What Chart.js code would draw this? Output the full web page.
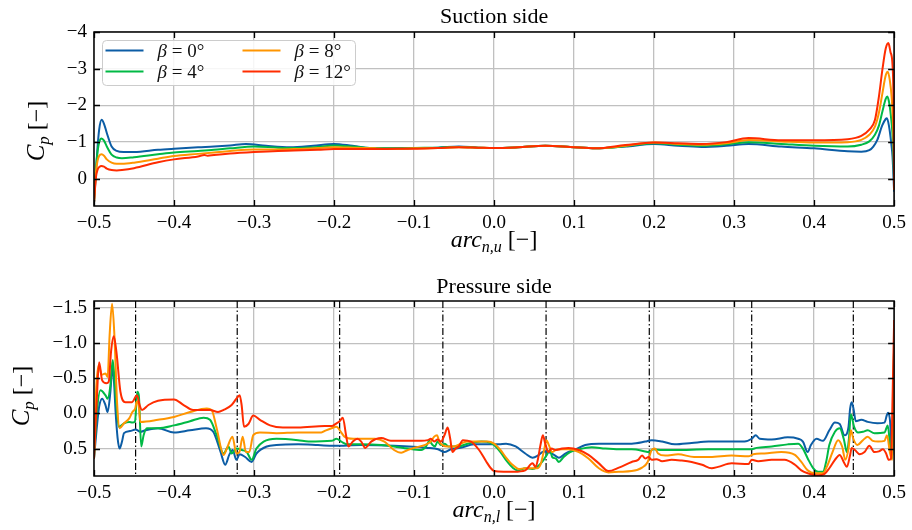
<!DOCTYPE html>
<html>
<head>
<meta charset="utf-8">
<script src="https://cdn.jsdelivr.net/npm/chart.js@4.4.1/dist/chart.umd.min.js"></script>
<style>
  html, body { margin: 0; padding: 0; background: #fff; }
  #wrap { position: relative; width: 912px; height: 530px; }
  canvas { position: absolute; left: 0; }
  #suction { top: 0; }
  #pressure { top: 265px; }
</style>
</head>
<body>
<div id="wrap">
  <canvas id="suction" width="912" height="265"></canvas>
  <canvas id="pressure" width="912" height="265"></canvas>
</div>
<script>
// ---- data -------------------------------------------------------------
// blade-angle settings (degrees)
const betaValues = [0, 4, 8, 12];

// axis ticks
const xTickValues = [-0.5, -0.4, -0.3, -0.2, -0.1, 0.0, 0.1, 0.2, 0.3, 0.4, 0.5];
const suctionTickValues = [-4, -3, -2, -1, 0];
const pressureTickValues = [-1.5, -1.0, -0.5, 0.0, 0.5];

// panel boundaries (dash-dot markers) along the lower arc
const pressureMarkers = [-0.448, -0.321, -0.193, -0.064, 0.065, 0.194, 0.322, 0.449];

// suction side: [arc_n,u, Cp]
const suction0 = [[-0.5,0.65],[-0.4975,-0.2],[-0.4955,-0.88],[-0.4935,-1.35],[-0.4905,-1.61],[-0.4875,-1.5],[-0.484,-1.25],[-0.478,-0.88],[-0.4716,-0.76],[-0.463,-0.73],[-0.45,-0.73],[-0.42,-0.79],[-0.40,-0.82],[-0.37,-0.86],[-0.35,-0.88],[-0.33,-0.91],[-0.31,-0.95],[-0.285,-0.90],[-0.255,-0.86],[-0.226,-0.90],[-0.20,-0.95],[-0.177,-0.90],[-0.148,-0.83],[-0.12,-0.83],[-0.10,-0.84],[-0.07,-0.85],[-0.044,-0.88],[-0.02,-0.85],[0.0,-0.84],[0.03,-0.86],[0.064,-0.90],[0.095,-0.87],[0.127,-0.83],[0.164,-0.88],[0.20,-0.95],[0.23,-0.90],[0.259,-0.87],[0.29,-0.90],[0.318,-0.95],[0.359,-0.88],[0.40,-0.83],[0.442,-0.75],[0.459,-0.74],[0.469,-0.78],[0.474,-0.88],[0.479,-1.06],[0.485,-1.45],[0.4895,-1.63],[0.491,-1.65],[0.4935,-1.45],[0.4965,-0.95],[0.498,-0.6],[0.5,0.35]];
const suction4 = [[-0.5,0.65],[-0.4975,-0.3],[-0.4955,-0.75],[-0.4935,-1.0],[-0.4905,-1.1],[-0.4875,-1.04],[-0.484,-0.88],[-0.478,-0.66],[-0.4716,-0.58],[-0.465,-0.56],[-0.45,-0.59],[-0.42,-0.67],[-0.40,-0.72],[-0.37,-0.76],[-0.35,-0.79],[-0.33,-0.83],[-0.30,-0.88],[-0.27,-0.85],[-0.25,-0.84],[-0.22,-0.87],[-0.20,-0.91],[-0.177,-0.88],[-0.148,-0.83],[-0.12,-0.83],[-0.10,-0.84],[-0.07,-0.85],[-0.044,-0.87],[-0.02,-0.85],[0.0,-0.84],[0.03,-0.86],[0.064,-0.90],[0.095,-0.87],[0.127,-0.83],[0.164,-0.89],[0.20,-0.97],[0.23,-0.93],[0.259,-0.90],[0.29,-0.94],[0.318,-1.0],[0.359,-0.95],[0.40,-0.90],[0.442,-0.88],[0.459,-0.93],[0.469,-1.02],[0.476,-1.2],[0.481,-1.45],[0.4855,-1.85],[0.4895,-2.18],[0.4915,-2.24],[0.494,-2.05],[0.4965,-1.6],[0.498,-1.2],[0.4993,-0.6],[0.5,0.3]];
const suction8 = [[-0.5,0.65],[-0.4975,-0.2],[-0.4955,-0.5],[-0.4935,-0.63],[-0.4905,-0.67],[-0.4875,-0.63],[-0.484,-0.53],[-0.478,-0.44],[-0.4716,-0.41],[-0.465,-0.41],[-0.45,-0.44],[-0.42,-0.55],[-0.40,-0.62],[-0.37,-0.68],[-0.35,-0.72],[-0.33,-0.76],[-0.30,-0.80],[-0.27,-0.80],[-0.25,-0.81],[-0.22,-0.84],[-0.20,-0.86],[-0.177,-0.85],[-0.148,-0.83],[-0.12,-0.82],[-0.10,-0.83],[-0.07,-0.84],[-0.044,-0.86],[-0.02,-0.85],[0.0,-0.84],[0.03,-0.86],[0.064,-0.90],[0.095,-0.87],[0.127,-0.83],[0.164,-0.90],[0.20,-0.99],[0.23,-0.95],[0.259,-0.93],[0.29,-0.97],[0.318,-1.06],[0.359,-1.02],[0.40,-0.99],[0.442,-1.0],[0.459,-1.06],[0.469,-1.2],[0.476,-1.42],[0.481,-1.8],[0.4855,-2.35],[0.4895,-2.82],[0.492,-2.92],[0.4945,-2.7],[0.497,-2.2],[0.4985,-1.6],[0.4995,-0.8],[0.5,0.3]];
const suction12 = [[-0.5,0.65],[-0.4975,-0.05],[-0.4955,-0.25],[-0.4935,-0.32],[-0.4905,-0.35],[-0.4875,-0.33],[-0.484,-0.28],[-0.478,-0.24],[-0.4716,-0.23],[-0.465,-0.24],[-0.45,-0.29],[-0.42,-0.45],[-0.40,-0.53],[-0.37,-0.61],[-0.362,-0.65],[-0.358,-0.63],[-0.35,-0.65],[-0.33,-0.69],[-0.30,-0.73],[-0.27,-0.76],[-0.25,-0.77],[-0.22,-0.79],[-0.20,-0.81],[-0.177,-0.81],[-0.148,-0.81],[-0.12,-0.82],[-0.10,-0.82],[-0.07,-0.84],[-0.044,-0.86],[-0.02,-0.85],[0.0,-0.84],[0.03,-0.86],[0.064,-0.90],[0.095,-0.87],[0.127,-0.83],[0.164,-0.92],[0.20,-0.99],[0.23,-0.97],[0.259,-0.95],[0.29,-1.0],[0.318,-1.11],[0.359,-1.05],[0.40,-1.05],[0.442,-1.08],[0.459,-1.17],[0.469,-1.34],[0.476,-1.6],[0.481,-2.24],[0.4855,-3.0],[0.4895,-3.55],[0.4928,-3.7],[0.4955,-3.45],[0.498,-3.1],[0.4993,-2.0],[0.5,0.3]];

// pressure side: [arc_n,l, Cp]
const pressure0 = [[-0.5,0.64],[-0.4965,0.2],[-0.4935,-0.1],[-0.4898,-0.21],[-0.4857,-0.12],[-0.483,-0.02],[-0.4795,-0.31],[-0.477,-0.66],[-0.475,-0.45],[-0.473,-0.02],[-0.4705,0.35],[-0.468,0.5],[-0.465,0.4],[-0.4625,0.28],[-0.455,0.25],[-0.448,0.23],[-0.442,0.26],[-0.436,0.24],[-0.42,0.21],[-0.40,0.27],[-0.38,0.24],[-0.36,0.21],[-0.351,0.26],[-0.342,0.54],[-0.336,0.73],[-0.331,0.59],[-0.3267,0.52],[-0.322,0.66],[-0.318,0.58],[-0.311,0.62],[-0.303,0.69],[-0.297,0.57],[-0.284,0.47],[-0.272,0.45],[-0.245,0.44],[-0.22,0.45],[-0.20,0.46],[-0.166,0.45],[-0.125,0.46],[-0.083,0.49],[-0.07,0.51],[-0.062,0.55],[-0.054,0.51],[-0.042,0.49],[-0.025,0.44],[-0.008,0.44],[0.006,0.44],[0.015,0.43],[0.027,0.47],[0.039,0.57],[0.048,0.63],[0.056,0.59],[0.062,0.54],[0.068,0.55],[0.075,0.59],[0.081,0.63],[0.089,0.57],[0.102,0.51],[0.114,0.45],[0.131,0.43],[0.152,0.43],[0.172,0.43],[0.189,0.40],[0.197,0.38],[0.210,0.40],[0.226,0.44],[0.247,0.42],[0.268,0.40],[0.297,0.40],[0.313,0.40],[0.322,0.36],[0.327,0.31],[0.332,0.36],[0.347,0.37],[0.367,0.34],[0.380,0.36],[0.386,0.40],[0.392,0.55],[0.396,0.45],[0.403,0.36],[0.411,0.39],[0.419,0.24],[0.426,0.13],[0.432,0.15],[0.438,0.31],[0.443,0.19],[0.445,-0.07],[0.447,-0.16],[0.4495,-0.05],[0.452,0.11],[0.459,0.09],[0.467,0.12],[0.479,0.14],[0.488,0.13],[0.491,0.02],[0.4925,-0.01],[0.495,0.12],[0.497,0.55],[0.4985,0.59],[0.5,-1.0]];
const pressure4 = [[-0.5,0.64],[-0.4965,0.0],[-0.492,-0.33],[-0.4857,-0.26],[-0.483,-0.21],[-0.4795,-0.40],[-0.4766,-0.76],[-0.473,-0.26],[-0.469,0.19],[-0.4625,0.14],[-0.456,0.12],[-0.452,0.13],[-0.4487,0.11],[-0.446,-0.31],[-0.444,-0.26],[-0.441,0.47],[-0.438,0.31],[-0.434,0.21],[-0.42,0.21],[-0.40,0.17],[-0.38,0.11],[-0.363,0.06],[-0.355,0.09],[-0.3467,0.31],[-0.338,0.57],[-0.332,0.47],[-0.328,0.57],[-0.322,0.50],[-0.315,0.52],[-0.309,0.55],[-0.303,0.66],[-0.297,0.50],[-0.288,0.40],[-0.272,0.36],[-0.245,0.38],[-0.232,0.40],[-0.203,0.39],[-0.197,0.36],[-0.191,0.40],[-0.183,0.44],[-0.166,0.44],[-0.141,0.45],[-0.125,0.47],[-0.108,0.50],[-0.091,0.52],[-0.085,0.47],[-0.081,0.39],[-0.0768,0.45],[-0.0739,0.47],[-0.0706,0.40],[-0.0665,0.45],[-0.0615,0.43],[-0.057,0.47],[-0.045,0.47],[-0.033,0.43],[-0.016,0.40],[-0.004,0.42],[0.0,0.45],[0.008,0.55],[0.016,0.68],[0.024,0.78],[0.03,0.81],[0.039,0.78],[0.048,0.79],[0.054,0.76],[0.060,0.69],[0.066,0.59],[0.070,0.52],[0.0726,0.62],[0.077,0.64],[0.081,0.69],[0.087,0.62],[0.095,0.55],[0.106,0.51],[0.122,0.48],[0.139,0.50],[0.156,0.51],[0.172,0.51],[0.189,0.54],[0.193,0.55],[0.199,0.51],[0.210,0.52],[0.226,0.52],[0.268,0.51],[0.322,0.51],[0.328,0.49],[0.347,0.47],[0.367,0.44],[0.380,0.43],[0.386,0.50],[0.392,0.64],[0.399,0.78],[0.405,0.83],[0.411,0.83],[0.415,0.69],[0.419,0.45],[0.426,0.26],[0.432,0.21],[0.437,0.36],[0.441,0.55],[0.4435,0.36],[0.446,0.01],[0.45,0.19],[0.455,0.27],[0.461,0.26],[0.467,0.24],[0.4753,0.28],[0.488,0.27],[0.492,0.17],[0.495,0.45],[0.4977,0.64],[0.5,-1.0]];
const pressure8 = [[-0.5,0.64],[-0.4975,-0.3],[-0.494,-0.69],[-0.4905,-0.55],[-0.4857,-0.57],[-0.483,-0.52],[-0.4805,-1.11],[-0.4774,-1.56],[-0.4745,-1.11],[-0.471,-0.12],[-0.468,0.21],[-0.4625,0.14],[-0.456,0.07],[-0.452,-0.02],[-0.4485,-0.07],[-0.4465,-0.17],[-0.444,-0.10],[-0.442,0.12],[-0.42,0.09],[-0.40,0.05],[-0.38,-0.02],[-0.359,-0.07],[-0.353,-0.05],[-0.3467,0.21],[-0.338,0.59],[-0.334,0.50],[-0.327,0.33],[-0.322,0.57],[-0.3183,0.55],[-0.3142,0.33],[-0.3101,0.55],[-0.306,0.55],[-0.301,0.31],[-0.2926,0.27],[-0.272,0.28],[-0.245,0.27],[-0.2159,0.27],[-0.21,0.24],[-0.203,0.21],[-0.197,0.19],[-0.191,0.27],[-0.187,0.33],[-0.176,0.36],[-0.166,0.36],[-0.149,0.36],[-0.137,0.40],[-0.125,0.52],[-0.116,0.56],[-0.108,0.52],[-0.1,0.49],[-0.087,0.45],[-0.079,0.40],[-0.0748,0.33],[-0.0713,0.31],[-0.0685,0.40],[-0.0644,0.45],[-0.058,0.47],[-0.05,0.47],[-0.0415,0.43],[-0.033,0.40],[-0.008,0.40],[0.0,0.43],[0.008,0.52],[0.0145,0.62],[0.023,0.73],[0.031,0.79],[0.039,0.78],[0.048,0.78],[0.054,0.78],[0.058,0.73],[0.062,0.55],[0.0656,0.38],[0.0685,0.45],[0.0726,0.55],[0.077,0.52],[0.085,0.51],[0.093,0.51],[0.106,0.55],[0.118,0.64],[0.131,0.78],[0.143,0.84],[0.156,0.83],[0.172,0.82],[0.185,0.77],[0.192,0.69],[0.197,0.52],[0.201,0.50],[0.205,0.57],[0.214,0.60],[0.23,0.58],[0.25,0.62],[0.27,0.62],[0.297,0.60],[0.318,0.61],[0.324,0.58],[0.338,0.57],[0.359,0.55],[0.376,0.59],[0.384,0.69],[0.392,0.81],[0.401,0.85],[0.411,0.85],[0.417,0.73],[0.423,0.55],[0.430,0.38],[0.435,0.47],[0.439,0.66],[0.443,0.50],[0.446,0.24],[0.449,0.36],[0.454,0.45],[0.461,0.38],[0.467,0.33],[0.4733,0.39],[0.48,0.40],[0.488,0.39],[0.491,0.31],[0.495,0.57],[0.4977,0.66],[0.5,-1.0]];
const pressure12 = [[-0.5,0.64],[-0.4965,-0.2],[-0.4936,-0.73],[-0.4898,-0.47],[-0.4845,-0.43],[-0.4816,-0.45],[-0.4787,-0.88],[-0.4753,-1.10],[-0.472,-0.88],[-0.467,-0.31],[-0.4608,-0.16],[-0.4525,-0.16],[-0.4463,-0.26],[-0.443,-0.12],[-0.44,-0.05],[-0.432,-0.12],[-0.42,-0.18],[-0.40,-0.2],[-0.388,-0.12],[-0.376,-0.05],[-0.363,-0.05],[-0.355,-0.05],[-0.345,-0.02],[-0.338,-0.05],[-0.328,-0.12],[-0.322,-0.21],[-0.318,-0.26],[-0.3155,-0.12],[-0.3125,0.19],[-0.307,0.15],[-0.301,0.03],[-0.2926,0.09],[-0.28,0.17],[-0.264,0.2],[-0.245,0.2],[-0.2117,0.18],[-0.203,0.18],[-0.197,0.14],[-0.193,0.11],[-0.189,0.06],[-0.185,0.31],[-0.182,0.47],[-0.1765,0.40],[-0.171,0.36],[-0.166,0.40],[-0.161,0.49],[-0.1536,0.40],[-0.141,0.35],[-0.129,0.39],[-0.116,0.39],[-0.091,0.39],[-0.083,0.38],[-0.079,0.36],[-0.0748,0.40],[-0.0706,0.37],[-0.0665,0.40],[-0.062,0.31],[-0.058,0.2],[-0.0548,0.36],[-0.052,0.55],[-0.048,0.50],[-0.044,0.47],[-0.039,0.38],[-0.029,0.40],[-0.0187,0.52],[-0.01,0.68],[-0.004,0.78],[0.0,0.82],[0.012,0.83],[0.025,0.83],[0.039,0.81],[0.048,0.71],[0.052,0.76],[0.055,0.64],[0.058,0.45],[0.061,0.31],[0.064,0.43],[0.068,0.55],[0.0718,0.50],[0.077,0.52],[0.085,0.50],[0.093,0.49],[0.106,0.52],[0.118,0.59],[0.131,0.71],[0.143,0.82],[0.156,0.77],[0.172,0.69],[0.18,0.66],[0.185,0.60],[0.189,0.64],[0.193,0.62],[0.197,0.66],[0.203,0.65],[0.210,0.68],[0.222,0.66],[0.234,0.67],[0.247,0.69],[0.26,0.73],[0.272,0.78],[0.28,0.76],[0.297,0.71],[0.318,0.72],[0.322,0.66],[0.33,0.68],[0.347,0.66],[0.363,0.66],[0.376,0.73],[0.384,0.81],[0.392,0.85],[0.405,0.88],[0.413,0.86],[0.419,0.78],[0.426,0.66],[0.432,0.59],[0.437,0.69],[0.441,0.76],[0.445,0.59],[0.447,0.49],[0.451,0.52],[0.457,0.58],[0.463,0.55],[0.469,0.46],[0.4753,0.55],[0.481,0.54],[0.486,0.51],[0.490,0.57],[0.4932,0.66],[0.4961,0.64],[0.4981,-0.26],[0.5,-1.33]];

// ---- styling ------------------------------------------------------------
const SERIF = '"Liberation Serif", "DejaVu Serif", serif';
const seriesColors = ['#0C5DA5', '#00B945', '#FF9500', '#FF2C00'];
const gridColor = '#c0c0c0';

function toPoints(pairs) { return pairs.map(p => ({ x: p[0], y: p[1] })); }
function fmt(v, digits) { return v.toFixed(digits).replace('-', '\u2212'); }

// draw a sequence of text runs: [text, italic, size, dy]
function drawRuns(ctx, runs, x, y, align) {
  let total = 0;
  const widths = runs.map(r => {
    ctx.font = (r[1] ? 'italic ' : '') + r[2] + 'px ' + SERIF;
    const w = ctx.measureText(r[0]).width;
    total += w;
    return w;
  });
  let cx = align === 'center' ? x - total / 2 : x;
  runs.forEach((r, i) => {
    ctx.font = (r[1] ? 'italic ' : '') + r[2] + 'px ' + SERIF;
    ctx.fillText(r[0], cx, y + (r[3] || 0));
    cx += widths[i];
  });
}

// frame, inward ticks, titles, axis labels and legend
function decorPlugin(o) {
  return {
    id: 'decor',
    afterDraw(chart) {
      const { ctx, chartArea: a, scales } = chart;
      const xs = scales.x, ys = scales.y;
      ctx.save();
      ctx.strokeStyle = '#000';
      ctx.lineWidth = 1.3;
      ctx.beginPath();
      xs.ticks.forEach(t => {
        const p = Math.round(xs.getPixelForValue(t.value)) + 0.5;
        ctx.moveTo(p, a.bottom); ctx.lineTo(p, a.bottom - 6);
        ctx.moveTo(p, a.top); ctx.lineTo(p, a.top + 6);
      });
      ys.ticks.forEach(t => {
        const p = Math.round(ys.getPixelForValue(t.value)) + 0.5;
        ctx.moveTo(a.left, p); ctx.lineTo(a.left + 6, p);
        ctx.moveTo(a.right, p); ctx.lineTo(a.right - 6, p);
      });
      ctx.stroke();
      ctx.lineWidth = 1.5;
      ctx.strokeRect(a.left, a.top, a.right - a.left, a.bottom - a.top);

      ctx.fillStyle = '#000';
      ctx.textBaseline = 'alphabetic';
      ctx.textAlign = 'left';
      const cxMid = (a.left + a.right) / 2;
      drawRuns(ctx, [[o.title, false, 22]], cxMid, o.titleY, 'center');
      drawRuns(ctx, [['arc', true, 24], [o.sub, true, 16, 5], [' [\u2212]', false, 24]], cxMid, o.xLabelY, 'center');

      ctx.save();
      ctx.translate(o.yLabelX, o.yLabelY);
      ctx.rotate(-Math.PI / 2);
      drawRuns(ctx, [['C', true, 25], ['p', true, 17, 5], [' [\u2212]', false, 24]], 0, 0, 'center');
      ctx.restore();

      if (o.legend) {
        const L = o.legend;
        ctx.beginPath();
        ctx.roundRect(L.x, L.y, L.w, L.h, 4);
        ctx.fillStyle = 'rgba(255,255,255,0.85)';
        ctx.fill();
        ctx.strokeStyle = '#cccccc';
        ctx.lineWidth = 1;
        ctx.stroke();
        betaValues.forEach((b, i) => {
          const col = Math.floor(i / 2), row = i % 2;
          const lx = L.x + 3 + col * L.colW, ly = L.y + 10 + row * 21;
          ctx.strokeStyle = seriesColors[i];
          ctx.lineWidth = 2;
          ctx.beginPath();
          ctx.moveTo(lx, ly); ctx.lineTo(lx + 38, ly);
          ctx.stroke();
          ctx.fillStyle = '#111';
          drawRuns(ctx, [['\u03b2', true, 19], [' = ' + b + '\u00b0', false, 19]], lx + 52, ly + 6, 'left');
        });
      }
      ctx.restore();
    }
  };
}

function makeChart(id, series, marks, yMin, yMax, yTicks, yDigits, area, deco) {
  const datasets = series.map((s, i) => ({
    data: toPoints(s),
    borderColor: seriesColors[i],
    borderWidth: 2,
    pointRadius: 0,
    fill: false,
    cubicInterpolationMode: 'monotone',
    order: 3 - i
  }));
  marks.forEach(m => datasets.push({
    data: [{ x: m, y: yMin }, { x: m, y: yMax }],
    borderColor: '#000',
    borderWidth: 1.2,
    borderDash: [7, 2.5, 1.5, 2.5],
    pointRadius: 0,
    fill: false,
    tension: 0,
    order: 10
  }));
  const tickFont = { family: SERIF, size: 19 };
  return new Chart(document.getElementById(id), {
    type: 'line',
    data: { datasets },
    options: {
      responsive: false,
      animation: false,
      events: [],
      layout: { padding: { top: area.top, right: 912 - area.right, left: 0, bottom: 0 } },
      plugins: { legend: { display: false }, tooltip: { enabled: false }, title: { display: false } },
      scales: {
        x: {
          type: 'linear', min: -0.5, max: 0.5,
          afterBuildTicks: s => { s.ticks = xTickValues.map(v => ({ value: v })); },
          afterFit: s => { s.height = 265 - area.bottom; },
          grid: { color: gridColor, lineWidth: 1.3, drawTicks: false },
          border: { display: false },
          ticks: { padding: 6, color: '#000', font: tickFont, maxRotation: 0, autoSkip: false, callback: v => fmt(v, 1) }
        },
        y: {
          type: 'linear', reverse: true, min: yMin, max: yMax,
          afterBuildTicks: s => { s.ticks = yTicks.map(v => ({ value: v })); },
          afterFit: s => { s.width = area.left; },
          grid: { color: gridColor, lineWidth: 1.3, drawTicks: false },
          border: { display: false },
          ticks: { padding: 7, color: '#000', font: tickFont, autoSkip: false, callback: v => fmt(v, yDigits) }
        }
      }
    },
    plugins: [decorPlugin(deco)]
  });
}

makeChart('suction', [suction0, suction4, suction8, suction12], [], -4, 0.74,
  suctionTickValues, 0, { left: 94, right: 897, top: 32, bottom: 206 },
  { title: 'Suction side', titleY: 23, sub: 'n,u', xLabelY: 247, yLabelX: 44, yLabelY: 131,
    legend: { x: 102.5, y: 40.5, w: 253, h: 45, colW: 137 } });

makeChart('pressure', [pressure0, pressure4, pressure8, pressure12], pressureMarkers, -1.6, 0.89,
  pressureTickValues, 1, { left: 94, right: 897, top: 36, bottom: 211 },
  { title: 'Pressure side', titleY: 28, sub: 'n,l', xLabelY: 252, yLabelX: 29, yLabelY: 131 });
</script>
</body>
</html>
